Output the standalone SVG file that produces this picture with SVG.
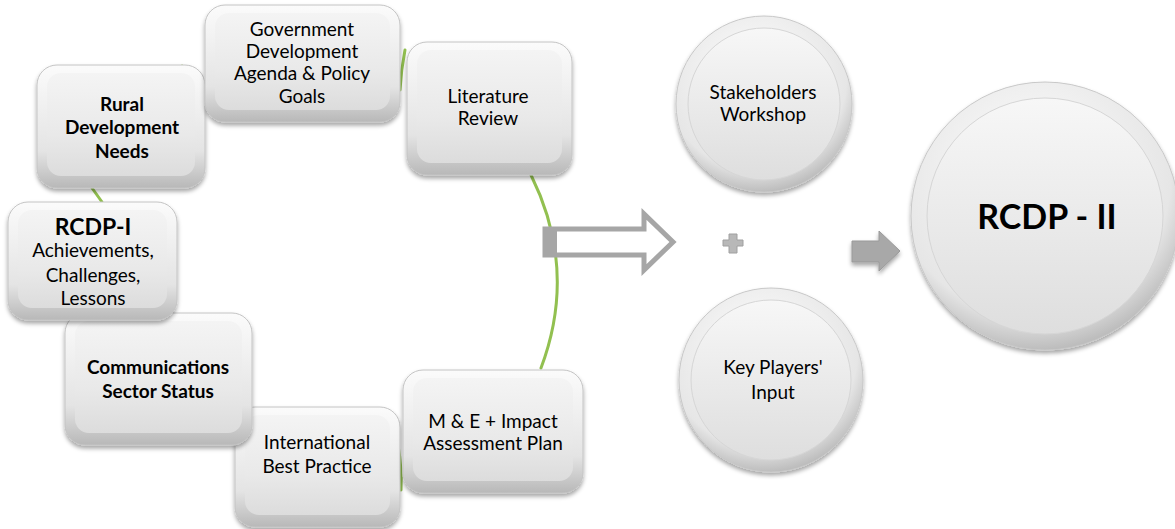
<svg xmlns="http://www.w3.org/2000/svg" width="1175" height="529" viewBox="0 0 1175 529">
<defs>
<linearGradient id="gOuter" x1="0" y1="0" x2="0" y2="1">
<stop offset="0" stop-color="#fbfbfb"/>
<stop offset="0.7" stop-color="#e4e4e4"/>
<stop offset="1" stop-color="#b8b8b8"/>
</linearGradient>
<linearGradient id="gInner" x1="0" y1="0" x2="0" y2="1">
<stop offset="0" stop-color="#f4f4f4"/>
<stop offset="0.6" stop-color="#e9e9e9"/>
<stop offset="1" stop-color="#dcdcdc"/>
</linearGradient>
<radialGradient id="cOuter" cx="0.45" cy="0.35" r="0.65">
<stop offset="0" stop-color="#ffffff"/>
<stop offset="0.8" stop-color="#e6e6e6"/>
<stop offset="1" stop-color="#bdbdbd"/>
</radialGradient>
<linearGradient id="cInner" x1="0" y1="0" x2="0" y2="1">
<stop offset="0" stop-color="#f7f7f7"/>
<stop offset="1" stop-color="#dedede"/>
</linearGradient>
<filter id="sh" x="-10%" y="-10%" width="120%" height="130%">
<feDropShadow dx="0" dy="3" stdDeviation="2" flood-color="#000" flood-opacity="0.35"/>
</filter>
</defs>
<style>
.o{fill:url(#gOuter);stroke:#c4c4c4;stroke-width:1;filter:url(#sh)}
.i{fill:url(#gInner)}
.co{fill:url(#cOuter);stroke:#c8c8c8;stroke-width:1;filter:url(#sh)}
.ci{fill:url(#cInner);stroke:#d6d6d6;stroke-width:1}
text{font-family:Lato,"Liberation Sans",sans-serif;font-size:19px;fill:#000;text-anchor:middle}
.b{font-weight:bold}
.conn{fill:none;stroke:#92c050;stroke-width:3;stroke-linecap:round}
</style>
<rect width="1175" height="529" fill="#fff"/>
<g id="connectors">
<path class="conn" d="M182,66 L202,102"/>
<path class="conn" d="M405,50 Q401,70 400,90"/>
<path class="conn" d="M92,188 L102,202"/>
<path class="conn" d="M237,448 L247,447"/>
<path class="conn" d="M398,445 Q402,468 401,490"/>
<path class="conn" d="M531,175 Q578,270 541,368"/>
</g>
<g id="international">
<rect class="o" x="235" y="407" width="165" height="120" rx="20"/>
<rect class="i" x="245" y="415" width="145" height="100" rx="14"/>
<text x="317" y="449">International</text>
<text x="317" y="473">Best Practice</text>
</g>
<g id="communications">
<rect class="o" x="65" y="313" width="187" height="132" rx="20"/>
<rect class="i" x="75" y="321" width="167" height="112" rx="14"/>
<text class="b" x="158" y="374">Communications</text>
<text class="b" x="158" y="398">Sector Status</text>
</g>
<g id="rcdp1">
<rect class="o" x="8" y="202" width="169" height="118" rx="20"/>
<rect class="i" x="18" y="210" width="149" height="98" rx="14"/>
<text class="b" x="93" y="235" style="font-size:23px">RCDP-I</text>
<text x="93" y="257">Achievements,</text>
<text x="93" y="282">Challenges,</text>
<text x="93" y="305">Lessons</text>
</g>
<g id="rural">
<rect class="o" x="37" y="65" width="168" height="123" rx="20"/>
<rect class="i" x="47" y="73" width="148" height="103" rx="14"/>
<text class="b" x="122" y="111">Rural</text>
<text class="b" x="122" y="134">Development</text>
<text class="b" x="122" y="158">Needs</text>
</g>
<g id="government">
<rect class="o" x="205" y="5" width="195" height="117" rx="20"/>
<rect class="i" x="215" y="13" width="175" height="97" rx="14"/>
<text x="302" y="36">Government</text>
<text x="302" y="58">Development</text>
<text x="302" y="80">Agenda &amp; Policy</text>
<text x="302" y="103">Goals</text>
</g>
<g id="literature">
<rect class="o" x="407" y="42" width="165" height="133" rx="20"/>
<rect class="i" x="417" y="50" width="145" height="113" rx="14"/>
<text x="488" y="103">Literature</text>
<text x="488" y="125">Review</text>
</g>
<g id="me">
<rect class="o" x="403" y="370" width="180" height="123" rx="20"/>
<rect class="i" x="413" y="378" width="160" height="103" rx="14"/>
<text x="493" y="428">M &amp; E + Impact</text>
<text x="493" y="450">Assessment Plan</text>
</g>
<g id="hollow-arrow">
<path d="M545,229 L644,229 L644,214 L673,242 L644,270 L644,255 L545,255 Z" fill="none" stroke="#a6a6a6" stroke-width="5" stroke-linejoin="miter"/>
<rect x="543" y="227" width="14" height="30" fill="#a6a6a6"/>
</g>
<g id="plus">
<path d="M729,234 h8 v6 h6 v6 h-6 v7 h-8 v-7 h-6 v-6 h6 z" fill="#b8b8b8" stroke="#a0a0a0" stroke-width="1"/>
</g>
<g id="gray-arrow">
<path d="M852,241 L879,241 L879,231 L900,251 L879,271 L879,262 L852,262 Z" fill="#a8a8a8" stroke="#999" stroke-width="1" filter="url(#sh)"/>
</g>
<g id="stakeholders">
<circle class="co" cx="764" cy="104" r="88"/>
<circle class="ci" cx="764" cy="104" r="76"/>
<text x="763" y="99">Stakeholders</text>
<text x="763" y="121">Workshop</text>
</g>
<g id="keyplayers">
<circle class="co" cx="771" cy="380" r="92"/>
<circle class="ci" cx="771" cy="380" r="80"/>
<text x="773" y="374">Key Players'</text>
<text x="773" y="399">Input</text>
</g>
<g id="rcdp2">
<circle class="co" cx="1045" cy="216" r="134"/>
<circle class="ci" cx="1045" cy="216" r="118"/>
<text class="b" x="1047" y="229" style="font-size:34px">RCDP - II</text>
</g>
</svg>
